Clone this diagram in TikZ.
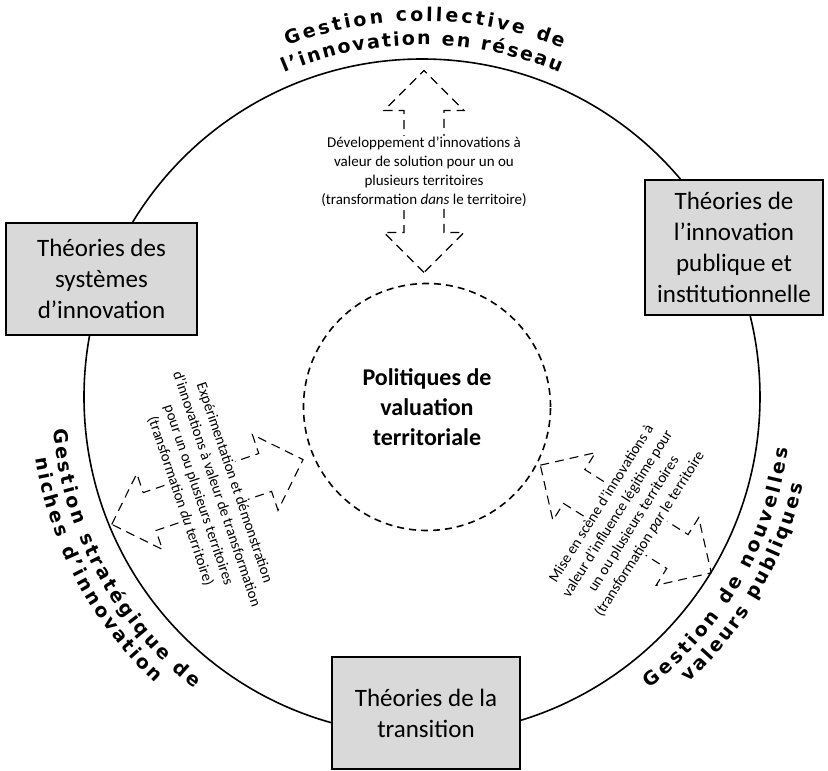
\documentclass[tikz,border=0pt]{standalone}
\usepackage{fontspec}
\setmainfont{Carlito}
\newfontfamily\arcfont{DejaVu Sans}
\usetikzlibrary{decorations.text}
\definecolor{boxgris}{rgb}{.85,.85,.85}
\newcommand\rimfont{\fontsize{19}{19}\selectfont\arcfont\bfseries}

\begin{document}
\begin{tikzpicture}[x=1pt, y=1pt,
    box/.style={draw, line width=2.2pt, fill=boxgris, align=center, inner sep=2pt, font=\fontsize{25}{31}\selectfont},
    hub/.style={draw, circle, line width=1.6pt, dash pattern=on 7pt off 5pt, minimum size=247pt, align=center, font=\bfseries\fontsize{24}{30}\selectfont},
    lbl/.style={fill=white, inner sep=1pt, align=center, font=\fontsize{15}{19}\selectfont},
    arr/.style={line width=1.1pt, dash pattern=on 9pt off 6pt},
    rim/.style={decorate, decoration={text along path, text align={fit to path}}},
    dblarrow/.pic={\draw[arr] (-101,0) -- (-61,40) -- (-61,20) -- (61,20) -- (61,40) -- (101,0)
      -- (61,-40) -- (61,-20) -- (-61,-20) -- (-61,-40) -- cycle;}]
  \useasboundingbox (-422,-374) rectangle (406,397);
  \node[circle, draw, line width=1.6pt, minimum size=676pt, inner sep=0pt] (ring) at (0,0) {};
  \node[hub] (P) at (5,-10) {Politiques de\\valuation\\territoriale};

  \coordinate (a1) at (2,225.5);
  \coordinate (a2) at (-214.6,-95);
  \coordinate (a3) at (203.8,-122);
  \pic[rotate=90] at (a1) {dblarrow};
  \pic[rotate=18.7] at (a2) {dblarrow};
  \pic[rotate=-32.2] at (a3) {dblarrow};

  \node[lbl] (dev) at (a1) {Développement d’innovations à\\valeur de solution pour un ou\\plusieurs territoires\\(transformation \textit{dans} le territoire)};
  \node[lbl, rotate=-71.3] (exp) at (a2) {Expérimentation et démonstration\\d’innovations à valeur de transformation\\pour un ou plusieurs territoires\\(transformation \textit{du} territoire)};
  \node[lbl, rotate=57.8] (mise) at (a3) {Mise en scène d’innovations à\\valeur d’influence légitime pour\\un ou plusieurs territoires\\(transformation \textit{par} le territoire};

  \node[box, minimum width=191pt, minimum height=112pt] (sys) at (-320.5,118) {Théories des\\systèmes\\d’innovation};
  \node[box, minimum width=178pt, minimum height=135pt] (pub) at (312,149.5) {Théories de\\l’innovation\\publique et\\institutionnelle};
  \node[box, minimum width=188pt, minimum height=112pt] (tra) at (4,-316) {Théories de la\\transition};

  \path[rim, decoration={text={|\rimfont|Gestion collective de}}] (111:376pt) arc[start angle=111, end angle=68, radius=376pt];
  \path[rim, decoration={text={|\rimfont|l’innovation en réseau}}] (113:352pt) arc[start angle=113, end angle=67, radius=352pt];
  \path[rim, decoration={text={|\rimfont|Gestion stratégique de}}] (185:370pt) arc[start angle=185, end angle=232, radius=370pt];
  \path[rim, decoration={text={|\rimfont|niches d’innovation}}] (189:391pt) arc[start angle=189, end angle=227, radius=391pt];
  \path[rim, decoration={text={|\rimfont|Gestion de nouvelles}}] (308:370pt) arc[start angle=308, end angle=352, radius=370pt];
  \path[rim, decoration={text={|\rimfont|valeurs publiques}}] (313:391pt) arc[start angle=313, end angle=347, radius=391pt];
\end{tikzpicture}
\end{document}
